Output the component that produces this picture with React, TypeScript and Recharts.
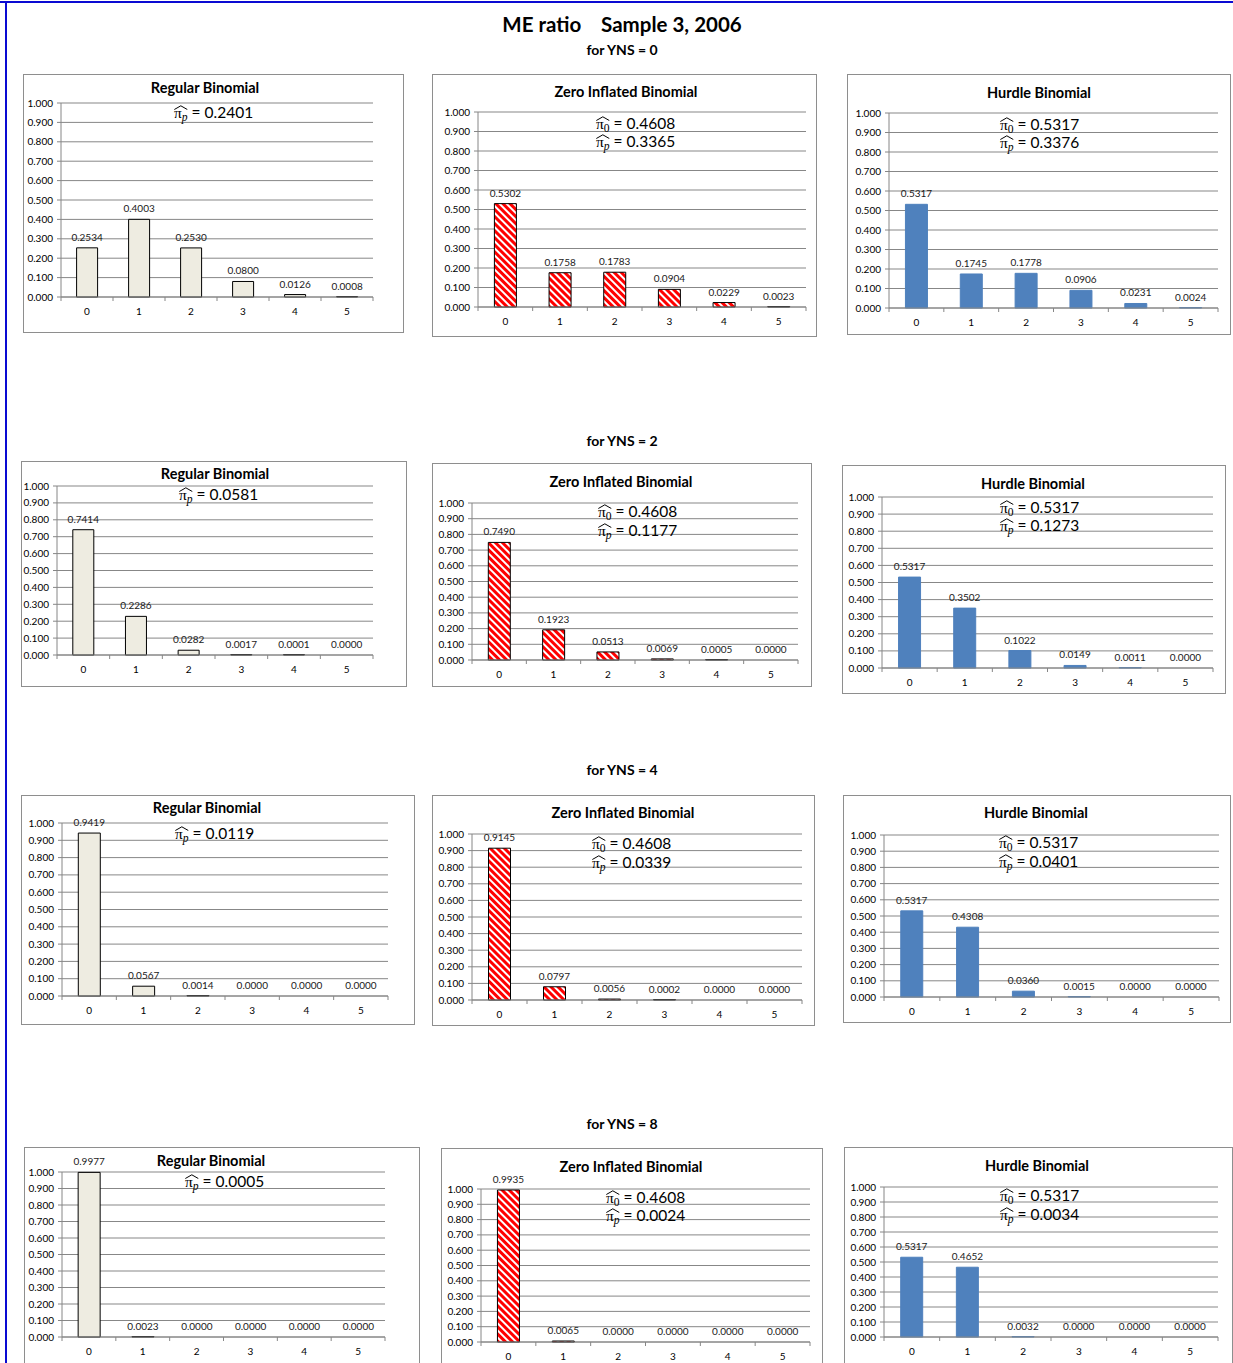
import React from 'react';
import { BarChart, Bar, XAxis, YAxis, CartesianGrid, LabelList, Cell } from 'recharts';

const FONT = 'Lato, "Open Sans", sans-serif';
const GRID = '#878787';
const AXIS = '#868686';

const CATEGORIES = ['0', '1', '2', '3', '4', '5'];
const Y_TICKS = [0, 0.1, 0.2, 0.3, 0.4, 0.5, 0.6, 0.7, 0.8, 0.9, 1.0];
const YNS_HEADERS = ['for YNS = 0', 'for YNS = 2', 'for YNS = 4', 'for YNS = 8'];

// regular binomial
const REGULAR_YNS0 = [0.2534, 0.4003, 0.2530, 0.0800, 0.0126, 0.0008];
const REGULAR_YNS2 = [0.7414, 0.2286, 0.0282, 0.0017, 0.0001, 0.0000];
const REGULAR_YNS4 = [0.9419, 0.0567, 0.0014, 0.0000, 0.0000, 0.0000];
const REGULAR_YNS8 = [0.9977, 0.0023, 0.0000, 0.0000, 0.0000, 0.0000];
const REGULAR_PI_P = [0.2401, 0.0581, 0.0119, 0.0005];

// zero inflated binomial
const ZI_YNS0 = [0.5302, 0.1758, 0.1783, 0.0904, 0.0229, 0.0023];
const ZI_YNS2 = [0.7490, 0.1923, 0.0513, 0.0069, 0.0005, 0.0000];
const ZI_YNS4 = [0.9145, 0.0797, 0.0056, 0.0002, 0.0000, 0.0000];
const ZI_YNS8 = [0.9935, 0.0065, 0.0000, 0.0000, 0.0000, 0.0000];
const ZI_PI_0 = 0.4608;
const ZI_PI_P = [0.3365, 0.1177, 0.0339, 0.0024];

// hurdle binomial
const HURDLE_YNS0 = [0.5317, 0.1745, 0.1778, 0.0906, 0.0231, 0.0024];
const HURDLE_YNS2 = [0.5317, 0.3502, 0.1022, 0.0149, 0.0011, 0.0000];
const HURDLE_YNS4 = [0.5317, 0.4308, 0.0360, 0.0015, 0.0000, 0.0000];
const HURDLE_YNS8 = [0.5317, 0.4652, 0.0032, 0.0000, 0.0000, 0.0000];
const HURDLE_PI_0 = 0.5317;
const HURDLE_PI_P = [0.3376, 0.1273, 0.0401, 0.0034];

type Kind = 'regular' | 'zi' | 'hurdle';

const TITLES: Record<Kind, string> = {
  regular: 'Regular Binomial',
  zi: 'Zero Inflated Binomial',
  hurdle: 'Hurdle Binomial',
};

// page positions: box [x, y, w, h], plot [left, top(1.000), right, bottom(0)], title [cx, cy], annot [x, y1, y2]
const LAYOUT: Record<Kind, any>[] = [
  {
    regular: { box: [23, 74, 381, 259], plot: [61, 103, 373, 297], title: [205, 87], annot: [174, 112] },
    zi: { box: [432, 74, 385, 263], plot: [478, 112, 806, 307], title: [626, 91], annot: [596, 123, 141] },
    hurdle: { box: [847, 74, 384, 261], plot: [889, 113, 1218, 308], title: [1039, 92], annot: [1000, 124, 142] },
  },
  {
    regular: { box: [21, 461, 386, 226], plot: [57, 486, 373, 655], title: [215, 473], annot: [179, 494] },
    zi: { box: [432, 463, 380, 224], plot: [472, 503, 798, 660], title: [621, 481], annot: [598, 511, 530] },
    hurdle: { box: [842, 465, 384, 229], plot: [882, 497, 1213, 668], title: [1033, 483], annot: [1000, 507, 525] },
  },
  {
    regular: { box: [21, 795, 394, 230], plot: [62, 823, 388, 996], title: [207, 807], annot: [175, 833] },
    zi: { box: [432, 795, 383, 231], plot: [472, 834, 802, 1000], title: [623, 812], annot: [592, 843, 862] },
    hurdle: { box: [843, 795, 388, 228], plot: [884, 835, 1219, 997], title: [1036, 812], annot: [999, 842, 861] },
  },
  {
    regular: { box: [24, 1147, 396, 230], plot: [62, 1172, 385, 1337], title: [211, 1160], annot: [185, 1181] },
    zi: { box: [441, 1148, 382, 230], plot: [481, 1189, 810, 1342], title: [631, 1166], annot: [606, 1197, 1215] },
    hurdle: { box: [844, 1147, 389, 230], plot: [884, 1187, 1218, 1337], title: [1037, 1165], annot: [1000, 1195, 1214] },
  },
];
const HEADER_Y = [49, 440, 769, 1123];

const ROWS = [
  { regular: REGULAR_YNS0, zi: ZI_YNS0, hurdle: HURDLE_YNS0 },
  { regular: REGULAR_YNS2, zi: ZI_YNS2, hurdle: HURDLE_YNS2 },
  { regular: REGULAR_YNS4, zi: ZI_YNS4, hurdle: HURDLE_YNS4 },
  { regular: REGULAR_YNS8, zi: ZI_YNS8, hurdle: HURDLE_YNS8 },
];

function XTick(props: any) {
  const { x, y, payload, index, band } = props;
  return (
    <g>
      <line x1={x - band / 2} x2={x - band / 2} y1={y} y2={y + 4} stroke={AXIS} />
      {index === CATEGORIES.length - 1 && (
        <line x1={x + band / 2} x2={x + band / 2} y1={y} y2={y + 4} stroke={AXIS} />
      )}
      <text x={x} y={y + 14} textAnchor="middle" dominantBaseline="central" fontSize={10} fontFamily={FONT} fill="#000">
        {payload.value}
      </text>
    </g>
  );
}

function PiHat({ sub, italic }: { sub: string; italic?: boolean }) {
  return (
    <span style={{ position: 'relative', display: 'inline-block', fontFamily: '"Liberation Serif", serif' }}>
      π
      <span style={{ fontSize: '0.75em', fontStyle: italic ? 'italic' : 'normal', position: 'relative', top: '0.3em' }}>{sub}</span>
      <svg width="100%" height="5" viewBox="0 0 20 5" preserveAspectRatio="none"
        style={{ position: 'absolute', left: 0, top: 2 }}>
        <path d="M0.5 4.5 L10 0.8 L19.5 4.5" stroke="#000" strokeWidth={1} fill="none" vectorEffect="non-scaling-stroke" />
      </svg>
    </span>
  );
}

function AnnotLine({ x, y, sub, italic, value }: any) {
  return (
    <div style={{
      position: 'absolute', left: x, top: y - 10, height: 20, lineHeight: '20px',
      fontSize: 15.5, fontFamily: FONT, whiteSpace: 'nowrap', color: '#000',
    }}>
      <PiHat sub={sub} italic={italic} /> = {value.toFixed(4)}
    </div>
  );
}

function Panel({ kind, layout, values }: { kind: Kind; layout: any; values: number[] }) {
  const [bx, by, bw, bh] = layout.box;
  const [px0, py1, px1, py0] = layout.plot;
  const band = (px1 - px0) / CATEGORIES.length;
  const data = CATEGORIES.map((c, i) => ({ k: c, v: values[i] }));

  const fill = kind === 'regular' ? '#EEECE1' : kind === 'zi' ? 'url(#ziStripes)' : '#4F81BD';
  const stroke = kind === 'hurdle' ? '#4F81BD' : '#000';

  return (
    <div style={{
      position: 'absolute', left: bx, top: by, width: bw, height: bh,
      border: '1px solid #8e8e8e', boxSizing: 'border-box', background: '#fff',
    }}>
      <div style={{ position: 'absolute', left: -1, top: -1 }}>
        <BarChart
          width={bw}
          height={bh}
          data={data}
          margin={{ top: py1 - by, right: bx + bw - px1, bottom: 0, left: 0 }}
          barCategoryGap="30%"
        >
          <CartesianGrid horizontal={true} vertical={false} stroke={GRID} />
          <XAxis
            dataKey="k"
            height={by + bh - py0}
            tickLine={false}
            tickSize={0}
            tickMargin={0}
            axisLine={{ stroke: AXIS }}
            interval={0}
            tick={<XTick band={band} />}
          />
          <YAxis
            type="number"
            domain={[0, 1]}
            ticks={Y_TICKS}
            interval={0}
            width={px0 - bx}
            tickSize={4}
            tickMargin={4}
            tickLine={{ stroke: AXIS }}
            axisLine={{ stroke: AXIS }}
            tick={{ fontSize: 10, fill: '#000', fontFamily: FONT }}
            tickFormatter={(v: number) => v.toFixed(3)}
          />
          <Bar dataKey="v" fill={fill} stroke={stroke} strokeWidth={1} minPointSize={0.5} isAnimationActive={false}>
            {data.map((d, i) => (
              <Cell key={`c-${i}`} fill={d.v === 0 ? 'none' : fill} stroke={d.v === 0 ? 'none' : stroke} />
            ))}
            <LabelList
              dataKey="v"
              position="top"
              offset={7}
              formatter={(v: any) => Number(v).toFixed(4)}
              style={{ fontSize: 10, fill: '#1a1a1a', fontFamily: FONT }}
            />
          </Bar>
        </BarChart>
      </div>
    </div>
  );
}

export default function App() {
  return (
    <div style={{
      position: 'absolute', left: 0, top: 0, width: 1233, height: 1363,
      overflow: 'hidden', background: '#fff', fontFamily: FONT,
    }}>
      <svg width="0" height="0" style={{ position: 'absolute' }}>
        <defs>
          <pattern id="ziStripes" patternUnits="userSpaceOnUse" width="5" height="5" patternTransform="rotate(45)">
            <rect width="5" height="5" fill="#fff" />
            <rect width="5" height="3" fill="#ff0000" />
          </pattern>
        </defs>
      </svg>

      {/* blue frame */}
      <div style={{ position: 'absolute', left: 0, top: 1, width: 1233, height: 2, background: '#0a0ad2' }} />
      <div style={{ position: 'absolute', left: 5, top: 1, width: 2, height: 1362, background: '#0a0ad2' }} />

      <div style={{
        position: 'absolute', left: 622, top: 24, transform: 'translate(-50%, -50%)',
        fontSize: 20.5, fontWeight: 700, whiteSpace: 'pre', color: '#000',
      }}>
        {'ME ratio    Sample 3, 2006'}
      </div>

      {YNS_HEADERS.map((h, r) => (
        <div key={h} style={{
          position: 'absolute', left: 622, top: HEADER_Y[r], transform: 'translate(-50%, -50%)',
          fontSize: 14, fontWeight: 700, whiteSpace: 'nowrap', color: '#000',
        }}>
          {h}
        </div>
      ))}

      {ROWS.map((row, r) =>
        (['regular', 'zi', 'hurdle'] as Kind[]).map((kind) => {
          const lay = LAYOUT[r][kind];
          const piP = kind === 'regular' ? REGULAR_PI_P[r] : kind === 'zi' ? ZI_PI_P[r] : HURDLE_PI_P[r];
          const pi0 = kind === 'zi' ? ZI_PI_0 : HURDLE_PI_0;
          return (
            <React.Fragment key={`${r}-${kind}`}>
              <Panel kind={kind} layout={lay} values={row[kind]} />
              <div style={{
                position: 'absolute', left: lay.title[0], top: lay.title[1], transform: 'translate(-50%, -50%)',
                fontSize: 14.5, fontWeight: 700, whiteSpace: 'nowrap', color: '#000',
              }}>
                {TITLES[kind]}
              </div>
              {kind === 'regular' ? (
                <AnnotLine x={lay.annot[0]} y={lay.annot[1]} sub="p" italic value={piP} />
              ) : (
                <>
                  <AnnotLine x={lay.annot[0]} y={lay.annot[1]} sub="0" value={pi0} />
                  <AnnotLine x={lay.annot[0]} y={lay.annot[2]} sub="p" italic value={piP} />
                </>
              )}
            </React.Fragment>
          );
        })
      )}
    </div>
  );
}
